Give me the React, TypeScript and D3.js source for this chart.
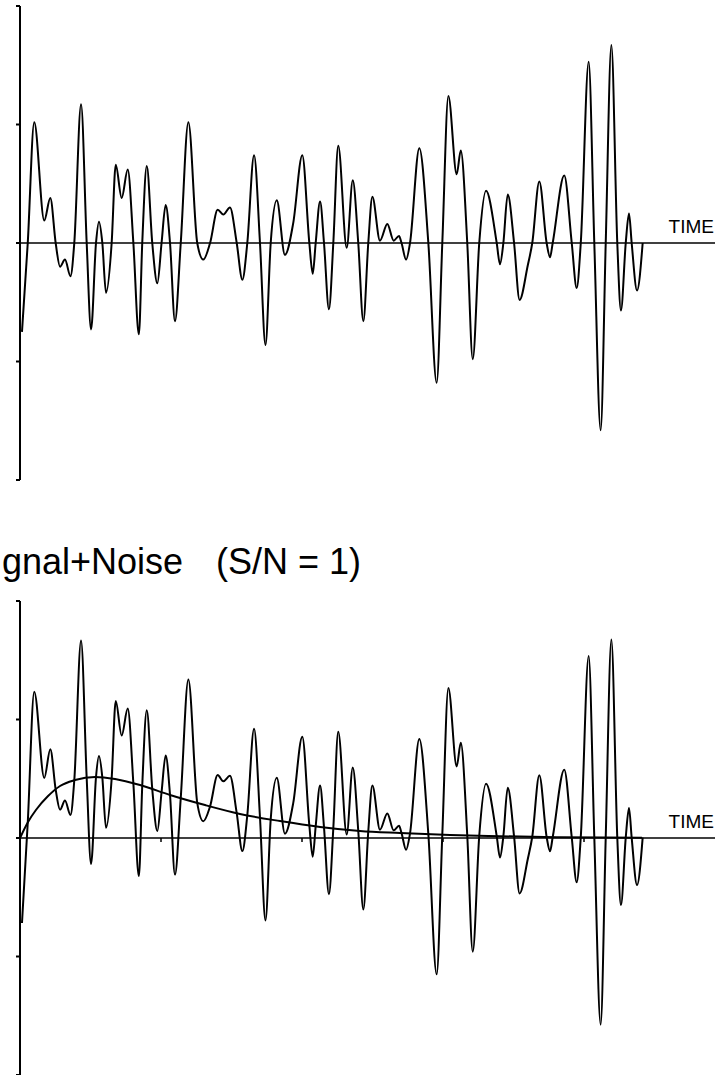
import React from "react";
import * as d3 from "d3";

// Noise trace (time in tenths of an x-tick, amplitude in y-tick units)
const noiseT = [
  0.14, 0.55, 1.01, 1.72, 2.15, 2.53, 2.84, 3.19, 3.58, 3.85, 4.33, 4.73, 5.04, 5.39, 5.6, 5.84,
  6.1, 6.5, 6.79, 7.21, 7.64, 8.04, 8.43, 8.67, 8.99, 9.38, 9.74, 10.04, 10.33, 10.64, 10.99,
  11.4, 11.94, 12.57, 13.0, 13.48, 14.02, 14.42, 14.89, 15.37, 15.77, 16.12, 16.6, 17.02, 17.41,
  17.78, 18.21, 18.79, 19.38, 20.02, 20.52, 20.76, 20.97, 21.28, 21.56, 21.91, 22.22, 22.57,
  23.17, 23.6, 23.99, 24.35, 24.7, 24.99, 25.53, 26.05, 26.5, 26.88, 27.06, 27.38, 27.66, 28.32,
  28.96, 29.55, 29.95, 30.38, 30.97, 31.26, 31.72, 32.11, 32.57, 33.05, 33.81, 34.04, 34.28,
  34.59, 35.04, 35.43, 36.01, 36.33, 36.83, 37.35, 37.59, 37.78, 38.6, 39.13, 39.48, 39.77,
  40.33, 40.73, 41.18, 41.54, 41.94, 42.36, 42.62, 42.96, 43.19, 43.38, 43.76, 44.16,
];
const noiseV = [
  -0.75, 0, 1.02, 0.19, 0.38, 0, -0.2, -0.14, -0.28, 0, 1.17, 0, -0.73, 0, 0.18, 0,
  -0.42, 0, 0.66, 0.38, 0.62, 0, -0.77, 0, 0.65, 0, -0.34, 0, 0.32, 0, -0.66,
  0, 1.02, 0, -0.14, 0, 0.28, 0.24, 0.3, 0, -0.31, 0, 0.74, 0, -0.86,
  0, 0.36, -0.1, 0.17, 0.74, 0, -0.26, 0, 0.35, 0, -0.56, 0, 0.82,
  -0.04, 0.53, 0, -0.66, 0, 0.39, 0.02, 0.16, 0.02, 0.06, 0, -0.14, 0, 0.8,
  0, -1.18, 0, 1.24, 0.58, 0.78, 0, -0.98, 0, 0.44, 0, -0.18, 0,
  0.41, 0, -0.48, -0.19, 0, 0.52, 0, -0.12, 0, 0.57, 0, -0.38, 0,
  1.53, 0, -1.58, 0, 1.67, 0, -0.57, 0, 0.25, 0, -0.4, 0,
];

// Signal pulse
const signalT = [0, 0.57, 1.13, 1.99, 2.84, 3.9, 5.32, 6.74, 8.51, 10.64, 13.12, 15.6, 18.44, 21.28, 24.11, 26.95, 30.5, 34.04, 38.3, 44.11];
const signalV = [0, 0.135, 0.236, 0.354, 0.439, 0.489, 0.515, 0.498, 0.447, 0.363, 0.278, 0.203, 0.143, 0.093, 0.059, 0.042, 0.025, 0.015, 0.007, 0.003];

const yTicks = [-2, -1, 0, 1, 2];
const xTicks = [10, 20, 30, 40];
const titleA = "gnal+Noise  ";
const titleB = "(S/N = 1)";
const axisLabel = "TIME";

const W = 715;
const H = 1075;
const FONT = "'Liberation Sans', Arial, Helvetica, sans-serif";

const x = d3.scaleLinear().domain([0, 49.29]).range([20, 715]);
const yTop = d3.scaleLinear().domain([-2, 2]).range([480, 6]);
const yBot = d3.scaleLinear().domain([-2, 2]).range([1075, 601]);
const sig = d3.scaleLinear().domain(signalT).range(signalV).clamp(true);

type P = [number, number];
const noisePts: P[] = noiseT.map((t, i) => [t, noiseV[i]]);
const sumPts: P[] = noiseT.map((t, i) => [t, noiseV[i] + sig(t)]);
const sigPts: P[] = signalT.map((t, i) => [t, signalV[i]]);

function Panel({ y, pts, extra, xt }: { y: d3.ScaleLinear<number, number>; pts: P[]; extra?: P[]; xt: boolean }) {
  const line = d3
    .line<P>()
    .x((d) => x(d[0]))
    .y((d) => y(d[1]))
    .curve(d3.curveMonotoneX);
  const y0 = y(0);
  return (
    <g>
      <line x1={20} x2={20} y1={y(-2)} y2={y(2)} stroke="#000" strokeWidth={2} />
      {yTicks.map((v) => (
        <line key={v} x1={16} x2={20} y1={y(v)} y2={y(v)} stroke="#000" strokeWidth={2} />
      ))}
      <line x1={16} x2={W} y1={y0} y2={y0} stroke="#000" strokeWidth={1.6} />
      {xt &&
        xTicks.map((t) => (
          <line key={t} x1={x(t)} x2={x(t)} y1={y0} y2={y0 + 4} stroke="#000" strokeWidth={1.5} />
        ))}
      {extra && <path d={line(extra) || ""} fill="none" stroke="#000" strokeWidth={2} />}
      <path d={line(pts) || ""} fill="none" stroke="#000" strokeWidth={2} strokeLinejoin="round" />
      <text x={714} y={y0 - 10} textAnchor="end" fontFamily={FONT} fontSize={19} fill="#000">
        {axisLabel}
      </text>
    </g>
  );
}

export default function App() {
  return (
    <svg
      width={W}
      height={H}
      viewBox={`0 0 ${W} ${H}`}
      style={{ position: "absolute", left: 0, top: 0, background: "#fff" }}
    >
      <rect width={W} height={H} fill="#fff" />
      <Panel y={yTop} pts={noisePts} xt={false} />
      <text x={2} y={574} fontFamily={FONT} fontSize={36} fill="#000" style={{ whiteSpace: "pre" }}>
        <tspan>{titleA}</tspan>
        <tspan x={216}>{titleB}</tspan>
      </text>
      <Panel y={yBot} pts={sumPts} extra={sigPts} xt={true} />
    </svg>
  );
}
